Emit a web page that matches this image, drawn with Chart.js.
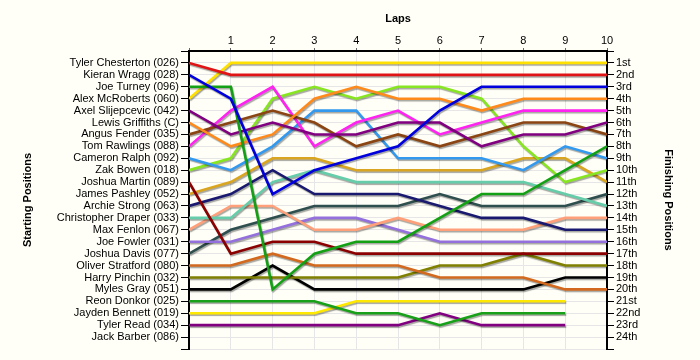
<!DOCTYPE html>
<html>
<head>
<meta charset="utf-8">
<script src="https://cdn.jsdelivr.net/npm/chart.js@4/dist/chart.umd.min.js"></script>
<style>
  html, body { margin: 0; padding: 0; background: #FFFFF7; }
  #wrap { width: 700px; height: 360px; }
</style>
</head>
<body>
<div id="wrap"><canvas id="c" width="700" height="360"></canvas></div>
<script>
// ---- data ----
const laps = [0, 1, 2, 3, 4, 5, 6, 7, 8, 9, 10];
const startingGrid = [
  'Tyler Chesterton (026)', 'Kieran Wragg (028)', 'Joe Turney (096)', 'Alex McRoberts (060)',
  'Axel Slijepcevic (042)', 'Lewis Griffiths (C)', 'Angus Fender (035)', 'Tom Rawlings (088)',
  'Cameron Ralph (092)', 'Zak Bowen (018)', 'Joshua Martin (089)', 'James Pashley (052)',
  'Archie Strong (063)', 'Christopher Draper (033)', 'Max Fenlon (067)', 'Joe Fowler (031)',
  'Joshua Davis (077)', 'Oliver Stratford (080)', 'Harry Pinchin (032)', 'Myles Gray (051)',
  'Reon Donkor (025)', 'Jayden Bennett (019)', 'Tyler Read (034)', 'Jack Barber (086)'
];
const finishLabels = ['1st','2nd','3rd','4th','5th','6th','7th','8th','9th','10th','11th','12th',
  '13th','14th','15th','16th','17th','18th','19th','20th','21st','22nd','23rd','24th'];

// position by lap (lap 0 = grid)
const tylerChesterton  = [1, 2, 2, 2, 2, 2, 2, 2, 2, 2, 2];
const kieranWragg      = [2, 4, 12, 10, 9, 8, 5, 3, 3, 3, 3];
const joeTurney        = [3, 3, 20, 17, 16, 16, 14, 12, 12, 10, 8];
const alexMcRoberts    = [4, 1, 1, 1, 1, 1, 1, 1, 1, 1, 1];
const axelSlijepcevic  = [5, 7, 6, 7, 7, 6, 6, 8, 7, 7, 6];
const lewisGriffiths   = [6, 8, 7, 4, 3, 4, 4, 5, 4, 4, 4];
const angusFender      = [7, 6, 5, 6, 8, 7, 8, 7, 6, 6, 7];
const tomRawlings      = [8, 5, 3, 8, 6, 5, 7, 6, 5, 5, 5];
const cameronRalph     = [9, 10, 8, 5, 5, 9, 9, 9, 10, 8, 9];
const zakBowen         = [10, 9, 4, 3, 4, 3, 3, 4, 8, 11, 10];
const joshuaMartin     = [11, 17, 16, 16, 17, 17, 17, 17, 17, 17, 17];
const jamesPashley     = [12, 11, 9, 9, 10, 10, 10, 10, 9, 9, 11];
const archieStrong     = [13, 12, 10, 12, 12, 12, 13, 14, 14, 15, 15];
const christopherDraper= [14, 14, 11, 10, 11, 11, 11, 11, 11, 12, 13];
const maxFenlon        = [15, 13, 13, 15, 15, 14, 15, 15, 15, 14, 14];
const joeFowler        = [16, 16, 15, 14, 14, 15, 16, 16, 16, 16, 16];
const joshuaDavis      = [17, 15, 14, 13, 13, 13, 12, 13, 13, 13, 12];
const oliverStratford  = [18, 18, 17, 18, 18, 18, 19, 19, 19, 20, 20];
const harryPinchin     = [19, 19, 19, 19, 19, 19, 18, 18, 17, 18, 18];
const mylesGray        = [20, 20, 18, 20, 20, 20, 20, 20, 20, 19, 19];
const reonDonkor       = [21, 21, 21, 21, 22, 22, 23, 22, 22, 22, null];
const jaydenBennett    = [22, 22, 22, 22, 21, 21, 21, 21, 21, 21, null];
const tylerRead        = [23, 23, 23, 23, 23, 23, 22, 23, 23, 23, null];
const jackBarber       = [null, null, null, null, null, null, null, null, null, null, null];

const seriesList = [
  tylerChesterton, kieranWragg, joeTurney, alexMcRoberts, axelSlijepcevic, lewisGriffiths,
  angusFender, tomRawlings, cameronRalph, zakBowen, joshuaMartin, jamesPashley, archieStrong,
  christopherDraper, maxFenlon, joeFowler, joshuaDavis, oliverStratford, harryPinchin,
  mylesGray, reonDonkor, jaydenBennett, tylerRead, jackBarber
];
const colors = [
  '#E01414', '#0000DD', '#14A014', '#FFE000', '#800080', '#FF8A1C',
  '#8B4513', '#FF22F0', '#3399EE', '#88E522', '#8B0000', '#DAA520', '#191970',
  '#66CDAA', '#FFA07A', '#9370DB', '#2F4F4F', '#D2691E', '#808000',
  '#000000', '#18A018', '#FFE800', '#800080', '#777777'
];

const datasets = seriesList.map((s, i) => ({
  label: startingGrid[i],
  data: s.map((p, k) => ({ x: laps[k], y: p })),
  borderColor: colors[i],
  backgroundColor: colors[i],
  borderWidth: 2.6,
  pointRadius: 0,
  tension: 0,
  fill: false,
  spanGaps: false,
  yAxisID: 'y'
}));

const bgPlugin = {
  id: 'bg',
  beforeDraw(chart) {
    const c = chart.ctx;
    c.save();
    c.fillStyle = '#FFFFF7';
    c.fillRect(0, 0, chart.width, chart.height);
    c.restore();
  }
};
const shadowPlugin = {
  id: 'shadow',
  beforeDatasetsDraw(chart) {
    const c = chart.ctx;
    c.save();
    c.shadowColor = 'rgba(0,0,0,0.35)';
    c.shadowOffsetX = 1;
    c.shadowOffsetY = 1.5;
    c.shadowBlur = 1;
  },
  afterDatasetsDraw(chart) { chart.ctx.restore(); }
};

const rowTicks = Array.from({ length: 26 }, (_, i) => ({ value: i }));

Chart.defaults.font.family = '"Liberation Sans", Arial, sans-serif';
Chart.defaults.font.size = 11;
Chart.defaults.color = '#000';

new Chart(document.getElementById('c'), {
  type: 'line',
  data: { datasets },
  plugins: [bgPlugin, shadowPlugin],
  options: {
    responsive: false,
    animation: false,
    layout: { padding: { left: 0, right: 0, top: 0, bottom: 11 } },
    plugins: { legend: { display: false }, tooltip: { enabled: false } },
    scales: {
      x: {
        type: 'linear', position: 'top', min: 0, max: 10,
        afterBuildTicks: (s) => { s.ticks = laps.map(v => ({ value: v })); },
        afterFit: (s) => { s.height = 51; },
        ticks: { callback: (v) => (v === 0 ? '' : String(v)), padding: 0, maxRotation: 0, autoSkip: false },
        grid: { color: '#E6E6E6', lineWidth: 1, tickLength: 3, tickColor: '#666' },
        border: { color: '#000', width: 2 },
        title: { display: true, text: 'Laps', font: { weight: 'bold', size: 11 }, padding: { top: 12, bottom: 0 } }
      },
      y: {
        type: 'linear', position: 'left', min: 0, max: 25, reverse: true,
        afterBuildTicks: (s) => { s.ticks = rowTicks.map(t => ({ value: t.value })); },
        afterFit: (s) => { s.width = 189; },
        ticks: { callback: (v) => startingGrid[v - 1] || '', padding: 2, autoSkip: false },
        grid: { color: '#E6E6E6', lineWidth: 1, tickLength: 8, tickColor: '#000' },
        border: { color: '#000', width: 2 },
        title: { display: true, text: 'Starting Positions', font: { weight: 'bold', size: 11 }, padding: { top: 21, bottom: 0 } }
      },
      y2: {
        type: 'linear', position: 'right', min: 0, max: 25, reverse: true,
        afterBuildTicks: (s) => { s.ticks = rowTicks.map(t => ({ value: t.value })); },
        afterFit: (s) => { s.width = 93; },
        ticks: { callback: (v) => finishLabels[v - 1] || '', padding: 2, autoSkip: false },
        grid: { drawOnChartArea: false, tickLength: 7, tickColor: '#000' },
        border: { color: '#000', width: 2 },
        title: { display: true, text: 'Finishing Positions', font: { weight: 'bold', size: 11 }, padding: { top: 25, bottom: 0 } }
      }
    }
  }
});
</script>
</body>
</html>
